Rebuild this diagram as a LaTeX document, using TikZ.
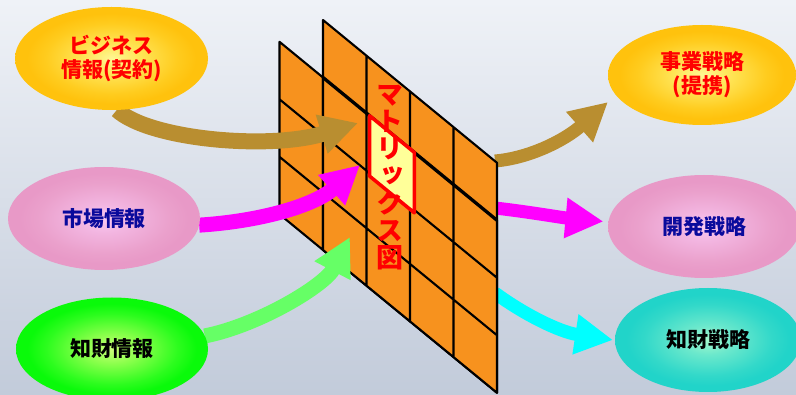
\documentclass[tikz,border=0pt]{standalone}
\usepackage{fontspec}
\usepackage{tikz}
\usetikzlibrary{arrows.meta, backgrounds, shapes.geometric}
\newfontfamily\jpfont{Noto Sans CJK JP}
\newfontfamily\jpvfont{Noto Sans CJK JP}[RawFeature=+vert]
\definecolor{bgtop}{HTML}{EFF2F7}
\definecolor{bgbot}{HTML}{C2CBDA}
\definecolor{panelorange}{HTML}{F7921E}
\definecolor{boxyellow}{HTML}{FFFF99}
\definecolor{infored}{HTML}{FF0000}
\definecolor{infoblue}{HTML}{0A0A9C}
\definecolor{flowbrown}{HTML}{B98E30}
\definecolor{flowmagenta}{HTML}{FF00FF}
\definecolor{flowgreen}{HTML}{66FF66}
\definecolor{flowcyan}{HTML}{00FFFF}
% radial glows for the ellipses (rim colour reached early, the box is larger than the node)
\pgfdeclareradialshading{glowyellow}{\pgfpoint{0bp}{0bp}}{%
  rgb(0bp)=(1,0.97,0.58); rgb(7bp)=(1,0.90,0.35); rgb(17bp)=(1,0.80,0.12); rgb(22bp)=(1,0.76,0.05); rgb(50bp)=(1,0.76,0.05)}
\pgfdeclareradialshading{glowpink}{\pgfpoint{0bp}{0bp}}{%
  rgb(0bp)=(0.98,0.79,0.95); rgb(7bp)=(0.95,0.71,0.88); rgb(17bp)=(0.92,0.63,0.80); rgb(22bp)=(0.91,0.60,0.78); rgb(50bp)=(0.91,0.60,0.78)}
\pgfdeclareradialshading{glowgreen}{\pgfpoint{0bp}{0bp}}{%
  rgb(0bp)=(0.80,1,0.48); rgb(7bp)=(0.55,1,0.30); rgb(17bp)=(0.18,0.99,0.12); rgb(22bp)=(0.04,0.98,0.04); rgb(50bp)=(0.04,0.98,0.04)}
\pgfdeclareradialshading{glowteal}{\pgfpoint{0bp}{0bp}}{%
  rgb(0bp)=(0.64,0.97,0.80); rgb(7bp)=(0.42,0.91,0.80); rgb(17bp)=(0.20,0.85,0.79); rgb(22bp)=(0.13,0.83,0.79); rgb(50bp)=(0.13,0.83,0.79)}

\begin{document}
\begin{tikzpicture}[
        x=1pt, y=-1pt,
        every node/.style={align=center, inner sep=0pt, outer sep=0pt},
        infobox/.style={ellipse, shade, minimum width=193pt, minimum height=103pt,
                        font=\jpfont\bfseries\fontsize{21}{24}\selectfont},
        bizbox/.style={infobox, shading=glowyellow, text=infored},
        mktbox/.style={infobox, shading=glowpink, text=infoblue},
        ipbox/.style={infobox, shading=glowgreen, text=black},
        stratbox/.style={infobox, shading=glowteal, text=black},
        flowin/.style={line width=15pt, -{Triangle[width=38pt, length=38pt]}},
        flowout/.style={line width=13pt, -{Triangle[width=38pt, length=38pt]}},
        cell/.style={fill=panelorange},
        gridline/.style={line width=2.1pt, line join=round},
        seamline/.style={line width=3.3pt, line join=round},
        redbox/.style={draw=infored, fill=boxyellow, line width=3.5pt, line join=round},
        vlabel/.style={text=infored, font=\jpvfont\bfseries\fontsize{27}{27.2}\selectfont}
    ]
        \useasboundingbox (0,0) rectangle (796,395);

        % --- Fuentes de informacion (izquierda) ---
        \node[bizbox, minimum width=193pt] (biz) at (111.5,58.5) {ビジネス\\情報(契約)};
        \node[mktbox, minimum width=192pt] (mkt) at (104,218.5) {市場情報};
        \node[ipbox, minimum width=192pt] (ipinfo) at (112,349) {知財情報};

        % --- Estrategias (derecha) ---
        \node[bizbox, minimum width=188pt, minimum height=100pt] (strat) at (702,75)
            {事業戦略\\(提携)};
        \node[mktbox, minimum width=192pt] (devstrat) at (704,226.5) {開発戦略};
        \node[stratbox, minimum width=186pt, minimum height=104pt] (ipstrat) at (708,340)
            {知財戦略};

        \begin{scope}[on background layer]
            \fill[top color=bgtop, bottom color=bgbot] (0,0) rectangle (796,395);

            % --- Flechas de salida (detras de la matriz) ---
            \coordinate (bizout) at (495,161);
            \coordinate (devout) at (495,208);
            \coordinate (ipout) at (495,293);
            \coordinate (strattip) at (608,102);
            \draw[flowout, flowbrown] (bizout) .. controls +(35,-3) and +(-43,38) .. (strattip);
            \draw[flowout, flowmagenta] (devout) .. controls +(35,4) and +(-43,-4)
                .. ([xshift=-5pt]devstrat.177);
            \draw[flowout, flowcyan] (ipout) .. controls +(30,22) and +(-53,-8)
                .. ([xshift=-2pt]ipstrat.west);

            % --- Matriz trasera: 5 x 3 ---
            \begin{scope}[shift={(279.5,41.8)}, x={(43.5pt,-35.7pt)}, y={(0pt,-57.5pt)}]
                \fill[cell] (0,0) -- (5,0) -- (5,3) -- (0,3) -- cycle;
                \draw[gridline] (0,0) -- (5,0) -- (5,3) -- (0,3) -- cycle
                    (1,0) -- (1,3) (2,0) -- (2,3) (0,1) -- (5,1) (0,2) -- (5,2);
            \end{scope}

            % --- Matriz frontal: 4 x 4 ---
            \begin{scope}[shift={(323,20)}, x={(43.5pt,-35.7pt)}, y={(0pt,-57.5pt)}]
                \fill[cell] (0,0) -- (4,0) -- (4,4) -- (0,4) -- cycle;
                \draw[gridline] (0,0) -- (4,0) -- (4,4) -- (0,4) -- cycle
                    (1,0) -- (1,4) (2,0) -- (2,4) (3,0) -- (3,4)
                    (0,2) -- (4,2) (0,3) -- (4,3);
                \draw[seamline] (0,1) -- (4,1);
                \draw[redbox] (1.07,1.0) -- (2.1,1.0) -- (2.1,2.05) -- (1.07,2.05) -- cycle;
            \end{scope}
            \node[vlabel] (mtxlabel) at (389.5,177.5) {マ\\ト\\リ\\ッ\\ク\\ス\\図};

            % --- Flechas de entrada (sobre la matriz) ---
            \coordinate (bizin) at (358,123);
            \coordinate (mktin) at (360,165);
            \coordinate (ipin) at (350,237);
            \draw[flowin, flowbrown, line width=16pt] (biz.-84) .. controls +(33,30) and +(-88,27) .. (bizin);
            \draw[flowin, flowmagenta] (mkt.-4) .. controls +(63,-4) and +(-45,40) .. (mktin);
            \draw[flowin, flowgreen] (ipinfo.8) .. controls +(55,-11) and +(-25,48) .. (ipin);
        \end{scope}
    \end{tikzpicture}
\end{document}
